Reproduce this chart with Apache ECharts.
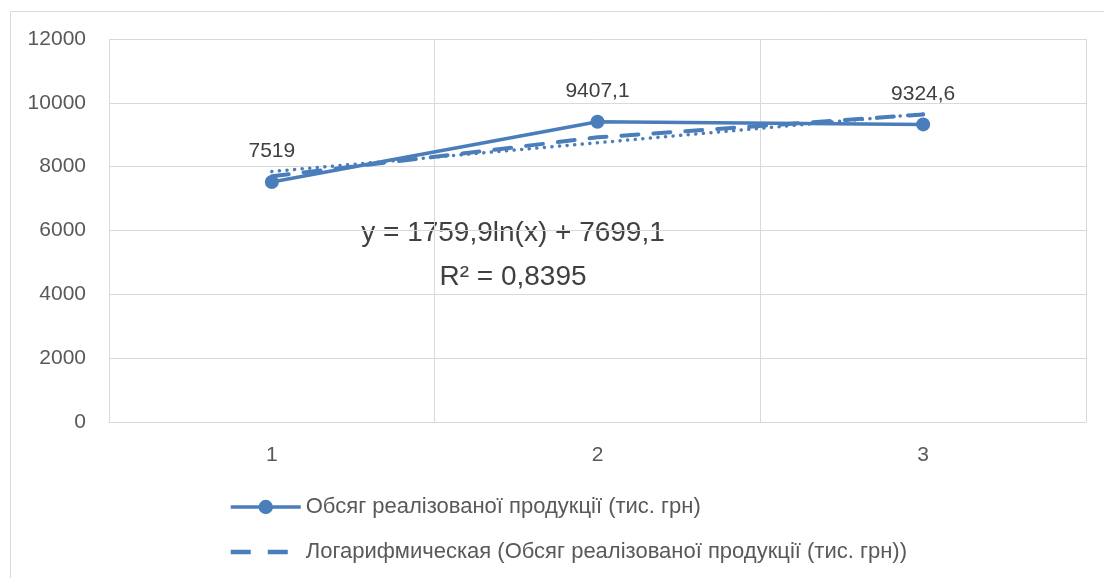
<!DOCTYPE html>
<html><head><meta charset="utf-8">
<script src="https://cdn.jsdelivr.net/npm/echarts@6/dist/echarts.min.js"></script>
<style>html,body{margin:0;padding:0;background:#fff}#c{width:1104px;height:578px}</style>
</head><body><div id="c"></div>
<script>
var categories = ['1', '2', '3'];
var salesValues = [7519, 9407.1, 9324.6];
var logTrendValues = [7699.1, 8918.9, 9632.6];
var linearTrendValues = [7847.4, 8750.2, 9653.0];
var yTicks = {min: 0, max: 12000, interval: 2000};
var seriesName = 'Обсяг реалізованої продукції (тис. грн)';
var logName = 'Логарифмическая (Обсяг реалізованої продукції (тис. грн))';
var equationText = 'y = 1759,9ln(x) + 7699,1';
var r2Text = 'R² = 0,8395';

var blue = '#4A7EBB';
var font = 'Liberation Sans, Arial, sans-serif';
var chart = echarts.init(document.getElementById('c'), null, {renderer: 'canvas'});
chart.setOption({
  backgroundColor: '#fff',
  animation: false,
  grid: {left: 109, right: 18, top: 39, bottom: 156},
  xAxis: {
    type: 'category', data: categories, boundaryGap: true,
    axisLine: {show: true, lineStyle: {color: '#d9d9d9', width: 1}},
    axisTick: {show: false},
    axisLabel: {color: '#595959', fontSize: 21, fontFamily: font, margin: 23},
    splitLine: {show: true, lineStyle: {color: '#d9d9d9', width: 1}}
  },
  yAxis: {
    type: 'value', min: yTicks.min, max: yTicks.max, interval: yTicks.interval,
    axisLine: {show: false}, axisTick: {show: false},
    axisLabel: {color: '#595959', fontSize: 21, fontFamily: font, margin: 23,
      formatter: function (v) { return String(v); }},
    splitLine: {show: true, lineStyle: {color: '#d9d9d9', width: 1}}
  },
  legend: {
    orient: 'vertical', left: 224, top: 491, itemGap: 23,
    itemWidth: 70, itemHeight: 18, symbolKeepAspect: true,
    textStyle: {color: '#595959', fontSize: 22, fontFamily: font},
    data: [
      {name: seriesName, lineStyle: {width: 3.5, color: blue}},
      {name: logName, icon: 'path://M0,0h20v4.5h-20z M37,0h20v4.5h-20z M69.9,0h0.1v0.1h-0.1z', itemStyle: {color: blue}}
    ]
  },
  series: [
    {
      name: 'linear', type: 'line', data: linearTrendValues,
      symbol: 'none', z: 2,
      lineStyle: {color: blue, width: 3.5, type: [0.1, 7.5], cap: 'round'}
    },
    {
      name: logName, type: 'line', data: logTrendValues, symbol: 'none', z: 3,
      itemStyle: {color: blue},
      lineStyle: {color: blue, width: 4, type: [17, 15], cap: 'round'}
    },
    {
      name: seriesName, type: 'line', data: salesValues,
      symbol: 'circle', symbolSize: 14, z: 4,
      itemStyle: {color: blue},
      lineStyle: {color: blue, width: 3.5},
      label: {
        show: true, position: 'top', distance: 13,
        color: '#404040', fontSize: 21, fontFamily: font,
        formatter: function (p) { return String(p.value).replace('.', ','); }
      }
    }
  ],
  graphic: [
    {type: 'rect', left: 8, top: 9, shape: {width: 1120, height: 600}, style: {fill: 'none', stroke: '#d9d9d9', lineWidth: 1}, silent: true, z: -1},
    {type: 'text', x: 513, y: 233, style: {text: equationText, fill: '#404040', font: '28px ' + font, align: 'center', verticalAlign: 'middle'}},
    {type: 'text', x: 513, y: 277, style: {text: r2Text, fill: '#404040', font: '28px ' + font, align: 'center', verticalAlign: 'middle'}}
  ]
});
</script></body></html>
